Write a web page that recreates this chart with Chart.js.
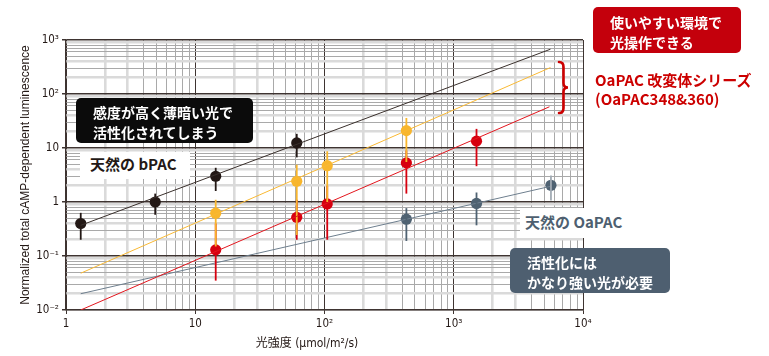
<!DOCTYPE html>
<html><head><meta charset="utf-8">
<script src="https://cdn.jsdelivr.net/npm/chart.js@4.4.1/dist/chart.umd.min.js"></script>
<style>
html,body{margin:0;padding:0;background:#fff;}
#wrap{position:relative;width:769px;height:356px;overflow:hidden;background:#fff;}
#c{position:absolute;left:0;top:0;}
.ov{position:absolute;box-sizing:border-box;font-family:'Noto Sans CJK JP','Noto Sans',sans-serif;font-weight:700;white-space:nowrap;}
.dark{color:#fff;border-radius:5px;font-size:14px;line-height:20px;}
#b1{left:76px;top:98px;width:177px;height:45px;background:#0b0b0b;padding:4px 0 0 17px;}
#b2{left:593px;top:7px;width:148px;height:46px;background:#c4000c;padding:5px 0 0 17px;}
#b3{left:510px;top:248px;width:160px;height:45px;background:#4e5f70;padding:4px 0 0 17px;}
#l1{left:80px;top:152px;width:110px;height:27px;background:#fff;padding:0 0 0 10px;font-size:15px;line-height:23px;color:#231815;}
#l2{left:520px;top:208px;width:112px;height:30px;background:#fff;padding:0 0 0 5px;font-size:15px;line-height:28px;color:#4e5f70;}
#r1{left:595px;top:70px;font-size:15px;line-height:19px;color:#cc0000;}
#xt{left:0;top:334px;width:614px;text-align:center;font-family:'Liberation Sans Narrow','DejaVu Sans Condensed','Liberation Sans','Noto Sans CJK JP',sans-serif;font-weight:400;font-size:12px;line-height:18px;color:#231815;}
#br{position:absolute;left:557px;top:60px;}
</style></head>
<body>
<div id="wrap">
<canvas id="c" width="769" height="356"></canvas>
<div class="ov dark" id="b1">感度が高く薄暗い光で<br>活性化されてしまう</div>
<div class="ov dark" id="b2">使いやすい環境で<br>光操作できる</div>
<div class="ov dark" id="b3">活性化には<br>かなり強い光が必要</div>
<div class="ov" id="l1">天然の bPAC</div>
<div class="ov" id="l2">天然の OaPAC</div>
<div class="ov" id="r1">OaPAC 改変体シリーズ<br>(OaPAC348&amp;360)</div>
<div class="ov" id="xt">光強度 (μmol/m²/s)</div>
<svg id="br" width="14" height="56" viewBox="0 0 14 56"><path d="M2,2 Q6.5,2 6.5,7 L6.5,23 Q6.5,27.5 11,27.5 Q6.5,27.5 6.5,32 L6.5,48 Q6.5,53 2,53" fill="none" stroke="#cc0000" stroke-width="2.6" stroke-linecap="round"/></svg>
</div>
<script>
// ---- tick labels ----
const xTickValues = [1, 10, 100, 1000, 10000];
const xTickLabels = ['1', '10', '10²', '10³', '10⁴'];
const yTickValues = [0.01, 0.1, 1, 10, 100, 1000];
const yTickLabels = ['10⁻²', '10⁻¹', '1', '10', '10²', '10³'];

// ---- natural bPAC ----
const bpacX  = [1.3, 4.9, 14.4, 61];
const bpacY  = [0.40, 1.0, 3.0, 12.4];
const bpacLo = [0.20, 0.58, 1.6, 6.7];
const bpacHi = [0.63, 1.43, 4.3, 18.3];
const bpacFitX = [1.3, 5600];
const bpacFitY = [0.37, 675];

// ---- OaPAC variant (yellow) ----
const varAX  = [14.4, 61, 105, 430];
const varAY  = [0.62, 2.42, 4.7, 21];
const varALo = [0.15, 0.245, 1.0, 5.5];
const varAHi = [1.1, 4.9, 8.7, 36];
const varAFitX = [1.3, 5600];
const varAFitY = [0.048, 309];

// ---- OaPAC variant (red) ----
const varBX  = [14.4, 61, 105, 430, 1500];
const varBY  = [0.13, 0.52, 0.92, 5.3, 13.4];
const varBLo = [0.035, 0.2, 0.2, 1.43, 4.6];
const varBHi = [0.4, 1.1, 2.0, 9, 22.6];
const varBFitX = [1.3, 5500];
const varBFitY = [0.01, 58];

// ---- natural OaPAC ----
const oaX  = [430, 1500, 5650];
const oaY  = [0.48, 0.94, 2.04];
const oaLo = [0.19, 0.37, 1.07];
const oaHi = [0.77, 1.5, 3.1];
const oaFitX = [1.3, 5600];
const oaFitY = [0.02, 1.95];

// ---- styles ----
const C_BLACK = '#231815', C_YEL = '#f8b62d', C_RED = '#d7000f', C_GRAY = '#4f6272';
const MAJOR = '#3e3431', LIGHT = '#dadada', THIN = '#a9a9a9';

const pts = (xs, ys) => xs.map((x, i) => ({x: x, y: ys[i]}));
function mant(v){ const e = Math.floor(Math.log10(v) + 1e-9); return Math.round(v / Math.pow(10, e)); }
function buildLogTicks(min, max){
  const t = [];
  const e0 = Math.round(Math.log10(min)), e1 = Math.round(Math.log10(max));
  for (let e = e0; e < e1; e++) for (let m = 1; m < 10; m++) t.push({value: +(m * Math.pow(10, e)).toPrecision(6)});
  t.push({value: max});
  return t;
}
function labelFor(vals, labs){ return v => { const i = vals.findIndex(t => Math.abs(t - v) / t < 1e-6); return i >= 0 ? labs[i] : ''; }; }
function grid(thick, majorW){
  return {
    color: c => { const m = mant(c.tick.value); return m === 1 ? MAJOR : (thick.includes(m) ? LIGHT : THIN); },
    lineWidth: c => { const m = mant(c.tick.value); return m === 1 ? majorW : (thick.includes(m) ? 2.6 : 1); },
    tickColor: c => mant(c.tick.value) === 1 ? MAJOR : 'rgba(0,0,0,0)',
    tickLength: 4,
    drawOnChartArea: true
  };
}

const errSeries = [
  {x: bpacX, lo: bpacLo, hi: bpacHi, color: [C_BLACK]},
  {x: varBX, lo: varBLo, hi: varBHi, color: [C_RED]},
  {x: varAX, lo: varALo, hi: varAHi, color: [C_YEL]},
  {x: oaX,   lo: oaLo,   hi: oaHi,   color: [C_GRAY, C_GRAY, '#a2abb4']}
];
const errorBars = {
  id: 'errorBars',
  afterDatasetDraw(chart, args){
    if (args.index !== 3) return;
    const ctx = chart.ctx, xs = chart.scales.x, ys = chart.scales.y;
    ctx.save();
    ctx.lineWidth = 1.8;
    errSeries.forEach(s => {
      s.x.forEach((xv, i) => {
        const px = xs.getPixelForValue(xv);
        ctx.strokeStyle = s.color[i] || s.color[0];
        ctx.beginPath();
        ctx.moveTo(px, ys.getPixelForValue(s.hi[i]));
        ctx.lineTo(px, ys.getPixelForValue(s.lo[i]));
        ctx.stroke();
      });
    });
    ctx.restore();
  }
};

const tickFont = {family: "'Liberation Sans Narrow','DejaVu Sans Condensed','Liberation Sans',sans-serif", size: 11.5};
const fitLine = (xs, ys, col) => ({type: 'line', data: pts(xs, ys), borderColor: col, borderWidth: 1, pointRadius: 0, fill: false, tension: 0});
const dots = (xs, ys, col) => ({type: 'scatter', data: pts(xs, ys), backgroundColor: col, borderWidth: 0, pointRadius: 5.6, pointHoverRadius: 5.6});

new Chart(document.getElementById('c'), {
  data: {
    datasets: [
      fitLine(bpacFitX, bpacFitY, '#3a302c'),
      fitLine(varAFitX, varAFitY, '#f9b934'),
      fitLine(varBFitX, varBFitY, '#e3161e'),
      fitLine(oaFitX, oaFitY, '#6e7f8e'),
      dots(bpacX, bpacY, C_BLACK),
      dots(oaX, oaY, C_GRAY),
      dots(varAX, varAY, C_YEL),
      dots(varBX, varBY, C_RED)
    ]
  },
  options: {
    responsive: false,
    animation: false,
    events: [],
    layout: {padding: {top: 40, right: 186, bottom: 0, left: 0}},
    plugins: {legend: {display: false}, tooltip: {enabled: false}},
    scales: {
      x: {
        type: 'logarithmic', min: 1, max: 10000,
        afterBuildTicks: s => { s.ticks = buildLogTicks(1, 10000); },
        afterFit: s => { s.height = 46; },
        ticks: {autoSkip: false, maxRotation: 0, padding: 3, color: C_BLACK, font: tickFont, callback: labelFor(xTickValues, xTickLabels)},
        grid: grid([2, 3], 1),
        border: {display: true, color: MAJOR, width: 1.2}
      },
      y: {
        type: 'logarithmic', min: 0.01, max: 1000,
        afterBuildTicks: s => { s.ticks = buildLogTicks(0.01, 1000); },
        afterFit: s => { s.width = 66; },
        ticks: {autoSkip: false, padding: 3, color: C_BLACK, font: tickFont, callback: labelFor(yTickValues, yTickLabels)},
        grid: grid([2, 4, 9], 1.5),
        border: {display: true, color: MAJOR, width: 1.2},
        title: {display: true, text: 'Normalized total cAMP-dependent luminescence', color: C_BLACK,
                font: {family: "'Liberation Sans','Noto Sans',sans-serif", size: 12}, padding: {top: 18, bottom: 0}}
      }
    }
  },
  plugins: [errorBars]
});
</script>
</body></html>
